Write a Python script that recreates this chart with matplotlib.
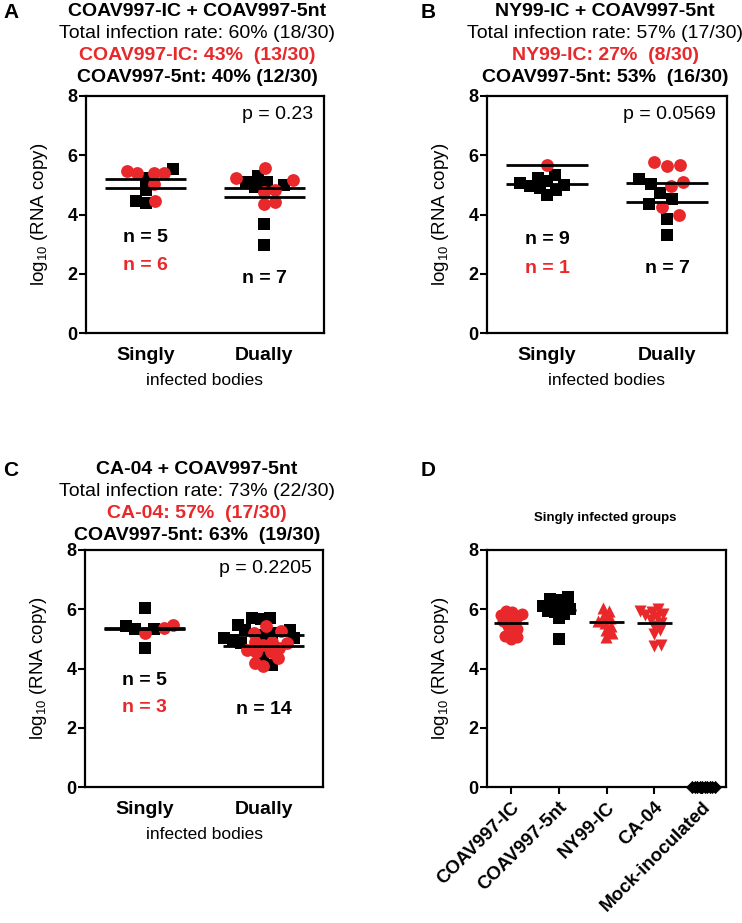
import numpy as np
import matplotlib.pyplot as plt

plt.rcParams['font.family'] = ['Liberation Sans', 'DejaVu Sans']
plt.rcParams['mathtext.default'] = 'regular'

RED = '#E8282B'

# --- data (log10 RNA copy) ---
cats = ['Singly', 'Dually']

# A: COAV997-IC + COAV997-5nt
a_single_ic = [5.48, 5.40, 5.03, 5.40, 5.40, 4.44]
a_single_5nt = [5.22, 5.54, 4.84, 4.47, 4.39]
a_dual_ic = [5.56, 5.18, 5.22, 4.77, 4.83, 4.36, 4.41]
a_dual_5nt = [5.29, 5.09, 4.92, 5.11, 5.00, 3.69, 2.96]

# B: NY99-IC + COAV997-5nt
b_single_ny = [5.66]
b_single_5nt = [5.35, 5.24, 5.12, 5.05, 5.01, 4.96, 4.90, 4.84, 4.67]
b_dual_ny = [5.67, 5.65, 5.76, 5.09, 4.97, 4.25, 3.99]
b_dual_5nt = [5.03, 5.20, 4.73, 4.53, 4.36, 3.85, 3.32]

# C: CA-04 + COAV997-5nt
c_single_ca = [5.36, 5.47, 5.19]
c_single_5nt = [5.33, 6.03, 5.42, 4.69, 5.33]
c_dual_ca = [5.28, 5.42, 5.21, 4.57, 4.20, 4.09, 4.35, 4.57, 4.85, 4.88, 4.80, 4.69, 4.63, 4.91]
c_dual_5nt = [5.66, 5.70, 5.70, 5.47, 4.97, 5.19, 5.02, 4.40, 4.12, 5.13, 5.30, 5.30, 4.85, 5.02]

# D: singly infected groups
d_groups = ['COAV997-IC', 'COAV997-5nt', 'NY99-IC', 'CA-04', 'Mock-inoculated']
d_ic = [5.95, 5.90, 5.85, 5.80, 5.75, 5.70, 5.60, 5.55, 5.45, 5.35, 5.25, 5.10, 5.05, 5.00]
d_5nt = [6.40, 6.35, 6.30, 6.20, 6.10, 6.05, 6.00, 5.95, 5.90, 5.85, 5.70, 5.00]
d_ny = [6.05, 5.95, 5.80, 5.70, 5.60, 5.55, 5.45, 5.30, 5.20, 5.05]
d_ca = [6.00, 5.95, 5.90, 5.85, 5.80, 5.75, 5.65, 5.55, 5.45, 5.30, 5.15, 4.80, 4.75]
d_mock = [0.0] * 10

p_values = ['p = 0.23', 'p = 0.0569', 'p = 0.2205']

W, H = 742, 923
fig = plt.figure(figsize=(W / 100, H / 100), dpi=100)


def add_ax(l, t, r, b):
    return fig.add_axes([l / W, 1 - b / H, (r - l) / W, (b - t) / H])


def swarm(ax, x0, vals, gap):
    # simple beeswarm in pixel space, returns x in data units
    vals = np.asarray(vals, float)
    pts = ax.transData.transform(np.column_stack([np.full(len(vals), x0), vals]))
    off = np.zeros(len(vals))
    placed = []
    for i in np.argsort(pts[:, 1]):
        y = pts[i, 1]
        cands = [0.0]
        for px, py in placed:
            dy = abs(y - py)
            if dy < gap:
                dx = np.sqrt(gap ** 2 - dy ** 2)
                cands += [px + dx, px - dx]
        cands.sort(key=abs)
        for c in cands:
            if all((c - px) ** 2 + (y - py) ** 2 >= gap ** 2 - 1e-6 for px, py in placed):
                break
        placed.append((c, y))
        off[i] = c
    inv = ax.transData.inverted()
    return inv.transform(np.column_stack([pts[:, 0] + off, pts[:, 1]]))[:, 0]


def style(ax):
    for s in ax.spines.values():
        s.set_linewidth(1.6)
    ax.set_ylim(0, 8)
    ax.set_yticks([0, 2, 4, 6, 8], ['0', '2', '4', '6', '8'], fontweight='bold', fontsize=13)
    ax.tick_params(axis='y', width=1.5, length=5, pad=1)
    ax.set_ylabel(r'log$_{10}$ (RNA copy)', fontsize=13.5)
    ax.yaxis.set_label_coords(-0.15, 0.5)


def mean_line(ax, x0, vals, hw):
    m = np.mean(vals)
    ax.plot([x0 - hw, x0 + hw], [m, m], color='black', lw=2, zorder=5, solid_capstyle='butt')


def pair_panel(ax, single_red, single_blk, dual_red, dual_blk, pval, n_texts, gaps):
    ax.set_xlim(0.5, 2.5)
    style(ax)
    for x0, red, blk, g in [(1, single_red, single_blk, gaps[0]), (2, dual_red, dual_blk, gaps[1])]:
        xs = swarm(ax, x0, list(blk) + list(red), g)
        xb, xr = xs[:len(blk)], xs[len(blk):]
        ax.scatter(xb, blk, marker='s', s=75, color='black', lw=0, zorder=3)
        ax.scatter(xr, red, marker='o', s=85, color=RED, lw=0, zorder=4)
        mean_line(ax, x0, red, 0.34)
        mean_line(ax, x0, blk, 0.34)
    ax.set_xticks([1, 2], cats, fontweight='bold', fontsize=14)
    ax.tick_params(axis='x', length=0, pad=10)
    ax.set_xlabel('infected bodies', fontsize=12.5)
    ax.xaxis.set_label_coords(0.5, -0.17)
    ax.text(0.955, 0.905, pval, transform=ax.transAxes, ha='right', va='baseline', fontsize=14)
    for x, y, t, c in n_texts:
        ax.text(x, y, t, ha='center', va='center', fontsize=14, fontweight='bold', color=c)


def titles(xc, y0, lines):
    for i, (t, c, w) in enumerate(lines):
        fig.text(xc / W, 1 - (y0 + 22 * i) / H, t, ha='center', va='baseline',
                 fontsize=14, color=c, fontweight=w)


axA = add_ax(86, 96, 324, 333)
pair_panel(axA, a_single_ic, a_single_5nt, a_dual_ic, a_dual_5nt, p_values[0],
           [(1, 3.23, 'n = 5', 'black'), (1, 2.29, 'n = 6', RED), (2, 1.85, 'n = 7', 'black')],
           (10, 10.5))
titles(197, 16, [('COAV997-IC + COAV997-5nt', 'black', 'bold'),
                 ('Total infection rate: 60% (18/30)', 'black', 'normal'),
                 ('COAV997-IC: 43%  (13/30)', RED, 'bold'),
                 ('COAV997-5nt: 40% (12/30)', 'black', 'bold')])

axB = add_ax(487, 96, 727, 333)
pair_panel(axB, b_single_ny, b_single_5nt, b_dual_ny, b_dual_5nt, p_values[1],
           [(1, 3.16, 'n = 9', 'black'), (1, 2.18, 'n = 1', RED), (2, 2.18, 'n = 7', 'black')],
           (10, 13))
titles(605, 16, [('NY99-IC + COAV997-5nt', 'black', 'bold'),
                 ('Total infection rate: 57% (17/30)', 'black', 'normal'),
                 ('NY99-IC: 27%  (8/30)', RED, 'bold'),
                 ('COAV997-5nt: 53%  (16/30)', 'black', 'bold')])

axC = add_ax(85, 550, 323, 787)
pair_panel(axC, c_single_ca, c_single_5nt, c_dual_ca, c_dual_5nt, p_values[2],
           [(1, 3.61, 'n = 5', 'black'), (1, 2.67, 'n = 3', RED), (2, 2.60, 'n = 14', 'black')],
           (10, 9))
titles(197, 474, [('CA-04 + COAV997-5nt', 'black', 'bold'),
                  ('Total infection rate: 73% (22/30)', 'black', 'normal'),
                  ('CA-04: 57%  (17/30)', RED, 'bold'),
                  ('COAV997-5nt: 63%  (19/30)', 'black', 'bold')])

# D
axD = add_ax(487, 550, 726, 787)
axD.set_xlim(0.5, 5.5)
style(axD)
d_data = [d_ic, d_5nt, d_ny, d_ca, d_mock]
d_mark = ['o', 's', '^', 'v', 'D']
d_col = [RED, 'black', RED, RED, 'black']
d_gap = [6.5, 7, 7, 7, 2.5]
for i, (vals, mk, col, g) in enumerate(zip(d_data, d_mark, d_col, d_gap)):
    xs = swarm(axD, i + 1, vals, g)
    axD.scatter(xs, vals, marker=mk, s=75 if mk != 'D' else 45, color=col, lw=0,
                zorder=3, clip_on=False)
    if i < 4:
        mean_line(axD, i + 1, vals, 0.36)
axD.set_xticks(range(1, 6))
axD.set_xticklabels(d_groups, rotation=45, ha='right', rotation_mode='anchor',
                    fontweight='bold', fontsize=13.5)
axD.tick_params(axis='x', width=1.5, length=5)
fig.text(605 / W, 1 - 521 / H, 'Singly infected groups', ha='center', va='baseline',
         fontsize=9.5, fontweight='bold')

# panel letters
for t, x, y in [('A', 3, 18), ('B', 421, 18), ('C', 3, 476), ('D', 421, 476)]:
    fig.text(x / W, 1 - y / H, t, ha='left', va='baseline', fontsize=15, fontweight='bold')

fig.savefig('out.png', dpi=100)
